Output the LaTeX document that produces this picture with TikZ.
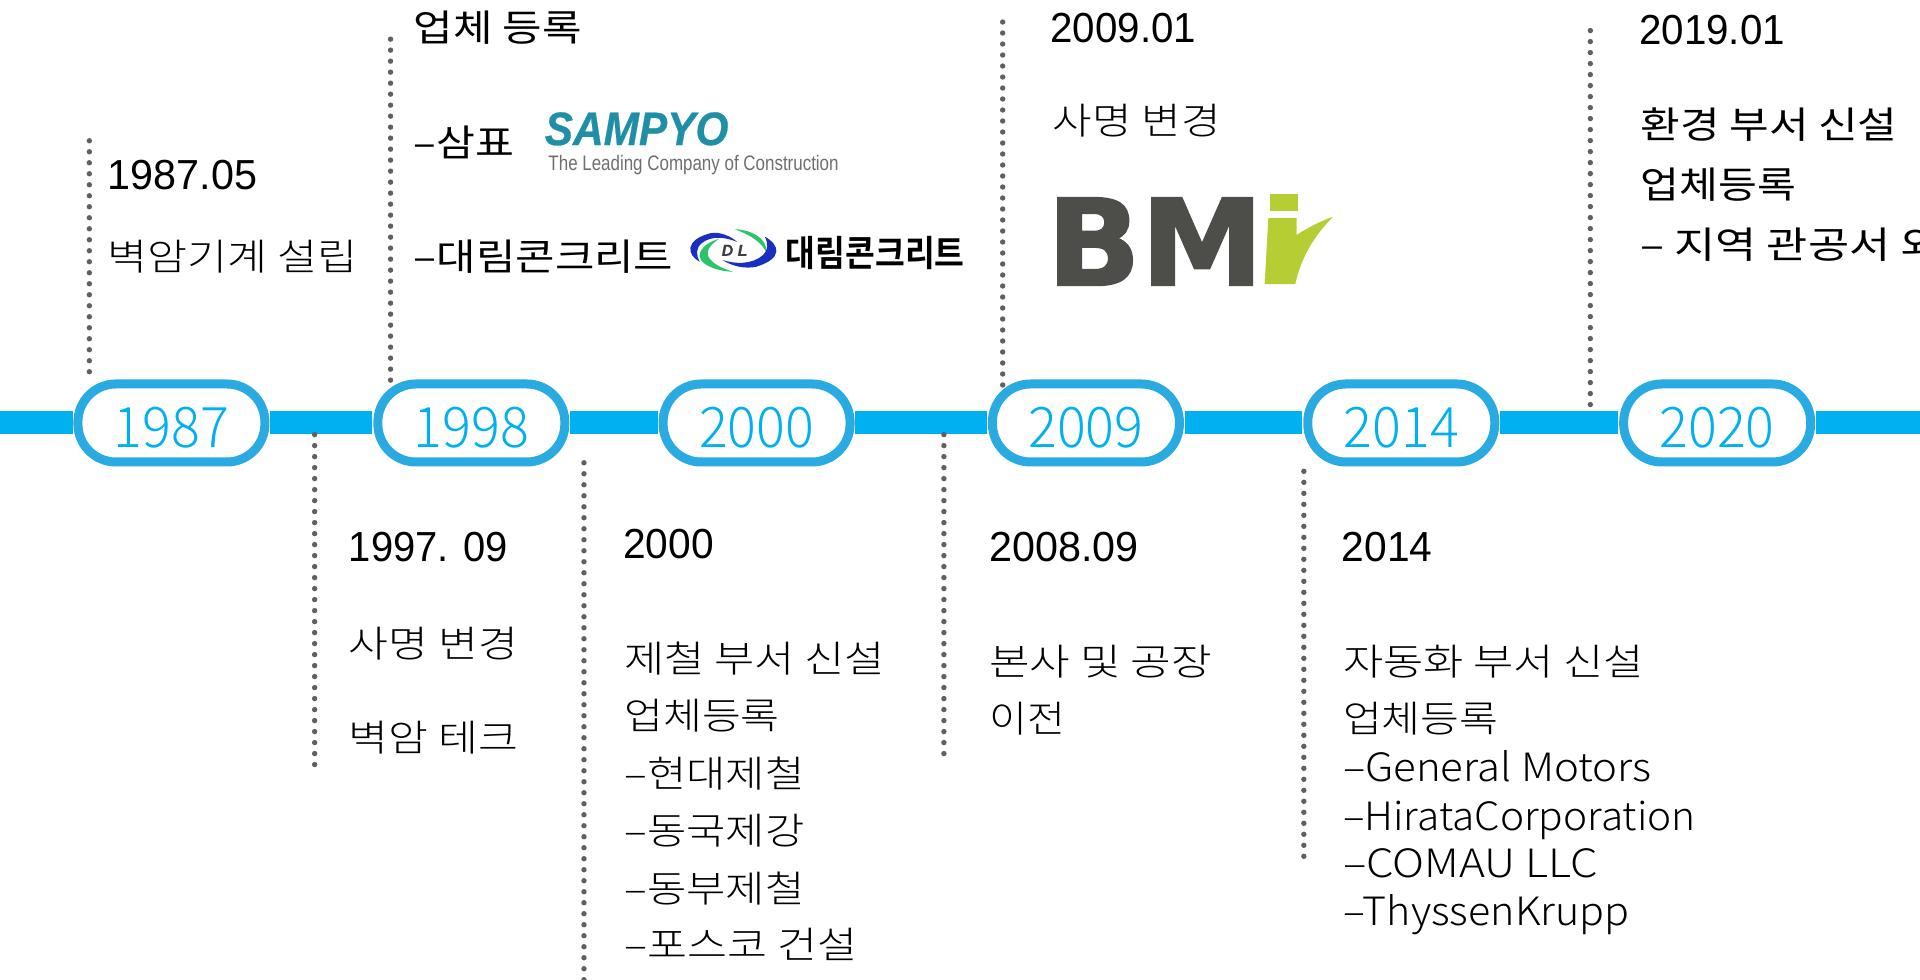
\documentclass[tikz,border=0pt]{standalone}
\usepackage{fontspec}
\usepackage{graphicx}
\newfontfamily\krreg{Noto Sans CJK KR}
\newfontfamily\krlight{Noto Sans CJK KR}[UprightFont=* Light]
\newfontfamily\krbold{Noto Sans CJK KR}[UprightFont=* Bold]
\newfontfamily\lib{Liberation Sans}
\newfontfamily\libbi{Liberation Sans Bold Italic}[FakeBold=0.6]
\newfontfamily\dejab{DejaVu Sans Bold}[FakeBold=1.6]
\definecolor{barblue}{HTML}{00B0F0}
\definecolor{pillblue}{HTML}{29ABE2}
\definecolor{dotgray}{HTML}{606060}
\definecolor{teal}{HTML}{1F8FA6}
\definecolor{slogan}{HTML}{6E6E6E}
\definecolor{bmgray}{HTML}{4D4E4A}
\definecolor{bmlime}{HTML}{B6CE34}
\definecolor{dlblue}{HTML}{1A2FC0}
\definecolor{dlgreen}{HTML}{2CC36B}
\newsavebox\fitbox
\newlength\fitlen
% width (in picture units), then content
\newcommand\fitw[2]{\sbox\fitbox{#2}\setlength\fitlen{\wd\fitbox}\pgfmathsetmacro\fitr{#1*0.6122/\fitlen}\scalebox{\fitr}[1]{\usebox\fitbox}}
% name, x, baseline y, width, font, text
\newcommand\lbl[6]{\node[lbl] (#1) at (#2,-#3) {\fitw{#4}{#5#6}};}
\newcommand\num{\lib\fontsize{21}{24}\selectfont}
\newcommand\reg{\krreg\fontsize{18.5}{22}\selectfont}
\newcommand\lig{\krlight\fontsize{18.5}{22}\selectfont}
\newcommand\latl{\krlight\fontsize{19.5}{22}\selectfont}
\tikzset{
  lbl/.style={anchor=base west,inner sep=0pt,outer sep=0pt,text=black},
  pill/.style={draw=pillblue,line width=4.5pt,fill=white,rectangle,rounded corners=19pt,
    minimum width=93.5pt,minimum height=39pt,inner sep=0pt,outer xsep=2.7pt,outer ysep=2.25pt,
    text=barblue,font=\krlight\fontsize{28}{30}\selectfont},
  bar/.style={draw=barblue,line width=11.5pt},
  dots/.style={draw=dotgray,line width=2.7pt,line cap=round,dash pattern=on 0pt off 5.5pt},
}
\newcommand\yr[1]{\raisebox{-12.3pt}[0pt][0pt]{\fitw{94}{#1}}}
\begin{document}
\begin{tikzpicture}[x=0.6122pt,y=0.6122pt]
\useasboundingbox (0,0) rectangle (1568.3,-800.4);
\clip (0,0) rectangle (1568.3,-800.4);
% pills
\node[pill] (p1) at (140,-345.5) {\yr{1987}};
\node[pill] (p2) at (385,-345.5) {\yr{1998}};
\node[pill] (p3) at (618,-345.5) {\yr{2000}};
\node[pill] (p4) at (887,-345.5) {\yr{2009}};
\node[pill] (p5) at (1144.6,-345.5) {\yr{2014}};
\node[pill] (p6) at (1402.6,-345.5) {\yr{2020}};
% bar
\coordinate (barL) at (0,-345.5);
\coordinate (barR) at (1568.3,-345.5);
\draw[bar] (barL) -- (p1);
\draw[bar] (p1) -- (p2);
\draw[bar] (p2) -- (p3);
\draw[bar] (p3) -- (p4);
\draw[bar] (p4) -- (p5);
\draw[bar] (p5) -- (p6);
\draw[bar] (p6) -- (barR);
% dotted leaders
\foreach \n/\x/\a/\b in {a/73/115/310,b/319/32/311,c/819/18/315,d/1299/25/339,e/257/355/633,f/477/378/803,g/771/355/620,h/1065/385/708}{
  \coordinate (\n1) at (\x,-\a);
  \coordinate (\n2) at (\x,-\b);
  \draw[dots] (\n1) -- (\n2);
}
% texts above
\lbl{t1}{88}{155}{122}{\num}{1987.05}
\lbl{t2}{88}{221}{204}{\lig}{벽암기계 설립}
\lbl{t3}{338}{34}{137}{\reg}{업체 등록}
\lbl{t4}{338}{128}{82}{\reg}{–삼표}
\lbl{t5}{338}{221}{212}{\reg}{–대림콘크리트}
\lbl{t6}{858}{35}{119}{\num}{2009.01}
\lbl{t7}{860}{110}{137}{\lig}{사명 변경}
\lbl{t8}{1339}{36}{119}{\num}{2019.01}
\lbl{t9}{1340}{113}{210}{\reg}{환경 부서 신설}
\lbl{t10}{1340}{162}{127}{\reg}{업체등록}
\lbl{t11}{1340}{211}{246}{\reg}{– 지역 관공서 외}
% texts below
\lbl{b1}{285}{459}{130}{\num}{1997. 09}
\lbl{b2}{285}{537}{138}{\lig}{사명 변경}
\lbl{b3}{285}{614}{138}{\lig}{벽암 테크}
\lbl{b4}{509}{456}{74}{\num}{2000}
\lbl{b5}{510}{549}{213}{\lig}{제철 부서 신설}
\lbl{b6}{510}{596}{127}{\lig}{업체등록}
\lbl{b7}{510}{643}{147}{\lig}{–현대제철}
\lbl{b8}{510}{690}{147}{\lig}{–동국제강}
\lbl{b9}{510}{737}{147}{\lig}{–동부제철}
\lbl{b10}{510}{783}{190}{\lig}{–포스코 건설}
\lbl{b11}{808}{459}{122}{\num}{2008.09}
\lbl{b12}{808}{552}{182}{\lig}{본사 및 공장}
\lbl{b13}{808}{598}{62}{\lig}{이전}
\lbl{b14}{1096}{459}{74}{\num}{2014}
\lbl{b15}{1097}{552}{246}{\lig}{자동화 부서 신설}
\lbl{b16}{1097}{598}{127}{\lig}{업체등록}
\lbl{b17}{1097}{638}{252}{\latl}{–General Motors}
\lbl{b18}{1097}{678}{288}{\latl}{–HirataCorporation}
\lbl{b19}{1097}{717}{208}{\latl}{–COMAU LLC}
\lbl{b20}{1097}{756}{234}{\latl}{–ThyssenKrupp}
% SAMPYO logo
\lbl{sam}{445}{118.5}{150}{\libbi\fontsize{23.5}{26}\selectfont\color{teal}}{SAMPYO}
\lbl{sam2}{448}{139}{237}{\lib\fontsize{10.5}{12}\selectfont\color{slogan}}{The Leading Company of Construction}
% Daelim logo
\begin{scope}[shift={(555.3,-179.7)},x=0.1667pt,y=-0.1667pt]
  \fill[dlblue] (60,125) .. controls (20,105) and (15,60) .. (90,40) .. controls (120,33) and (155,50) .. (172,66)
     .. controls (140,52) and (95,45) .. (65,70) .. controls (48,85) and (48,105) .. (60,125) -- cycle;
  \fill[dlblue] (255,50) .. controls (300,75) and (310,115) .. (230,140) .. controls (195,148) and (155,138) .. (128,120)
     .. controls (165,132) and (215,135) .. (250,105) .. controls (265,90) and (265,70) .. (255,50) -- cycle;
  \fill[dlgreen] (165,28) .. controls (210,28) and (265,55) .. (258,95) .. controls (245,65) and (205,42) .. (165,28) -- cycle;
  \fill[dlgreen] (160,155) .. controls (110,155) and (50,130) .. (60,100) .. controls (68,78) and (90,65) .. (118,56)
     .. controls (95,72) and (78,90) .. (85,108) .. controls (95,130) and (125,145) .. (160,155) -- cycle;
\end{scope}
\node[lbl] (dl) at (589.5,-209) {\libbi\fontsize{8}{9}\selectfont\color{black!75}D L};
\lbl{dlt}{642}{218}{146}{\krbold\fontsize{18}{20}\selectfont}{대림콘크리트}
% BMi logo
\lbl{bm}{855}{233}{177}{\dejab\fontsize{60}{62}\selectfont\color{bmgray}}{BM}
\fill[bmlime] (1037,-158.7) -- (1060,-158.7) -- (1060,-172) -- (1037,-172) -- cycle;
\fill[bmlime] (1036,-178) -- (1059,-178) -- (1059,-192) .. controls (1068,-186) and (1080,-180) .. (1089,-177)
   .. controls (1078,-188) and (1064,-205) .. (1058,-232) -- (1033,-232) -- cycle;
\end{tikzpicture}
\end{document}
